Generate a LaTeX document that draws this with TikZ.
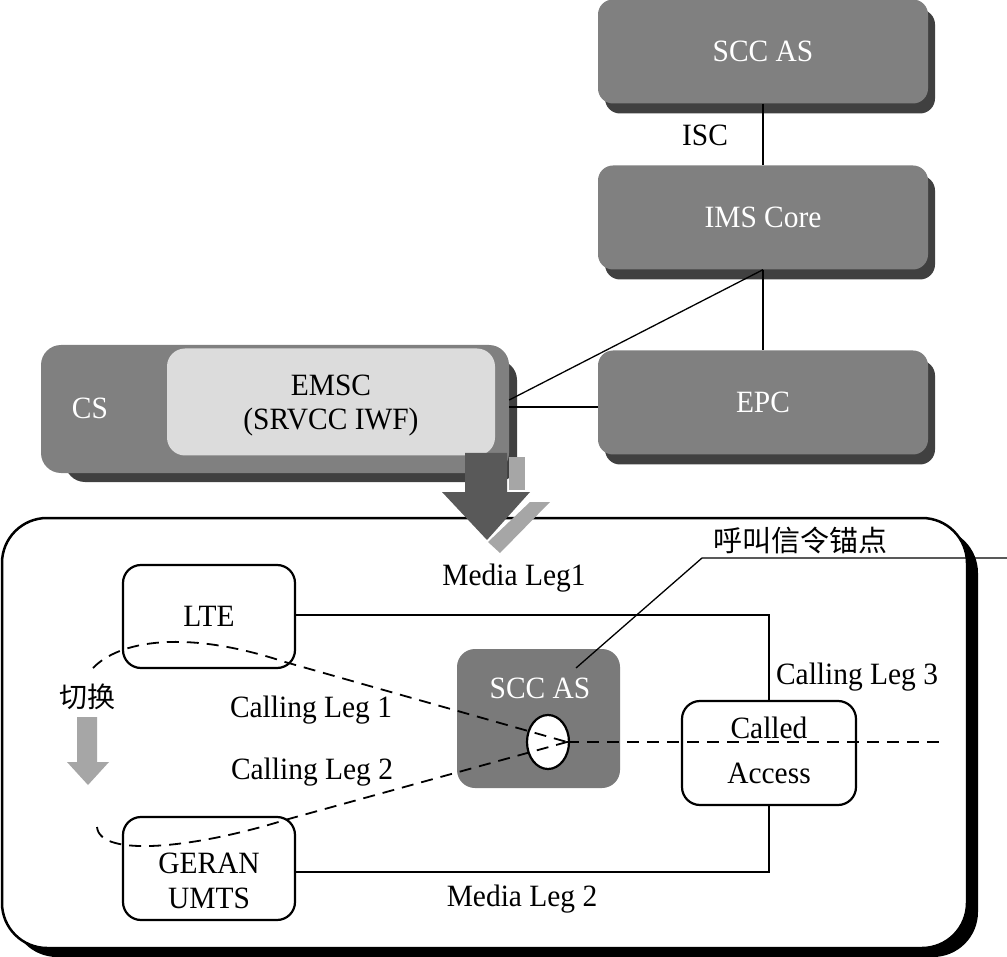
\documentclass[tikz,border=0pt]{standalone}
\usepackage{fontspec}
\setmainfont{Liberation Serif}[FakeStretch=0.95]
\newfontfamily\cjk{Noto Sans CJK SC}
\usetikzlibrary{shapes.geometric,shadows}
\definecolor{boxgray}{RGB}{128,128,128}
\definecolor{shadowgray}{RGB}{64,64,64}
\definecolor{emscgray}{RGB}{220,220,220}
\definecolor{darkarrow}{RGB}{89,89,89}
\definecolor{lightarrow}{RGB}{166,166,166}
\definecolor{innergray}{RGB}{122,122,122}
\tikzset{
  txt/.style={font=\fontsize{31}{35}\selectfont, inner sep=0pt},
  topbox/.style={txt, fill=boxgray, text=white, rounded corners=15pt,
    minimum width=330pt, minimum height=104pt,
    general shadow={shadow xshift=7pt, shadow yshift=-10pt, fill=shadowgray}},
  accbox/.style={txt, draw, line width=2.2pt, fill=white, rounded corners=18pt,
    minimum width=172pt, minimum height=103pt, align=center},
  thin/.style={line width=1.3pt},
  dashln/.style={line width=1.8pt, dash pattern=on 12pt off 8pt},
  lbl/.style={txt}
}
\begin{document}
\begin{tikzpicture}[x=1pt,y=-1pt]
\useasboundingbox (0,0) rectangle (1007,957);

% top column
\node[topbox] (sccTop) at (763,51.5) {SCC AS};
\node[topbox] (ims) at (763,217.5) {IMS Core};
\node[topbox] (epc) at (763,402.5) {EPC};
\draw[thin] (sccTop.south) -- (ims.north);
\draw[thin] (ims.south) -- (epc.north);
\node[lbl] (isc) at (705,135) {ISC};

% CS / EMSC
\fill[shadowgray, rounded corners=20pt] (65,360) rectangle (517,482);
\node[txt, fill=boxgray, rounded corners=20pt, minimum width=468pt, minimum height=128pt] (cs) at (275,409) {};
\node[txt, text=white] (csl) at (90,408) {CS};
\node[txt, fill=emscgray, rounded corners=18pt, minimum width=328pt, minimum height=107pt] (emsc) at (331,402) {};
\node[txt, align=center, font=\fontsize{31}{34}\selectfont] (emscT) at (331,406) {EMSC\\(SRVCC IWF)};
\coordinate (csA) at ([yshift=9pt]cs.east);
\draw[thin] (csA) -- (ims.south);
\coordinate (epcW) at ([yshift=-4.5pt]epc.west);
\draw[thin] (cs.east |- epcW) -- (epcW);

% container
\fill[black, rounded corners=45pt] (12,528) rectangle (978,957);
\draw[line width=2.5pt, fill=white, rounded corners=45pt] (2,518) rectangle (967,948);

% big arrow
\fill[darkarrow] (465,453) -- (507,453) -- (507,492) -- (530,492) -- (487,540) -- (442,492) -- (465,492) -- cycle;
\fill[lightarrow] (509,457) rectangle (525,490);
\fill[lightarrow] (530,502) -- (550,502) -- (500,553) -- (488,542) -- cycle;

% access boxes
\node[accbox] (lte) at (209,616.5) {LTE};
\node[accbox] (geran) at (209,868.5) {};
\node[txt, align=center, font=\fontsize{31}{35}\selectfont] (geranT) at (209,881) {GERAN\\UMTS};
\node[accbox, minimum width=174pt, minimum height=104pt] (called) at (769,753) {};
\node[txt, align=center, font=\fontsize{31}{45}\selectfont] (calledT) at (769,750) {Called\\Access};

% inner SCC AS
\node[txt, fill=innergray, rounded corners=18pt, minimum width=163pt, minimum height=139pt] (sccIn) at (538.5,718.5) {};
\node[txt, text=white] (sccInL) at (540,688) {SCC AS};

% media legs
\coordinate (m1) at (called.north |- lte.east);
\draw[thin] ([yshift=1.5pt]lte.east) -- ([yshift=1.5pt]m1) -- (called.north);
\coordinate (m2) at (called.south |- geran.east);
\draw[thin] ([yshift=-3.5pt]geran.east) -- ([yshift=-3.5pt]m2) -- (called.south);

% anchor
\node[ellipse, draw, line width=2.2pt, fill=white, minimum width=42pt, minimum height=54pt, inner sep=0pt] (anc) at (548,742) {};
\coordinate (meet) at (567,742);
\coordinate (rEnd) at (940,742);
\draw[dashln] (93,668) .. controls (118,642) and (182,628) .. (285,662) -- (meet);
\draw[dashln] (97,827) .. controls (100,858) and (195,848) .. (285,820) -- (meet);
\draw[dashln] (meet) -- (rEnd);

% leader
\coordinate (ld0) at ([xshift=36pt,yshift=20pt]sccInL.center);
\coordinate (ld1) at (702,558);
\coordinate (ld2) at (1007,558);
\draw[thin] (ld0) -- (ld1) -- (ld2);
\node[txt, font=\cjk\fontsize{29}{35}\selectfont] (anchorLbl) at (800,540) {呼叫信令锚点};

% handover arrow
\fill[lightarrow] (77,717) -- (97,717) -- (97,762) -- (109,762) -- (88,785) -- (67,762) -- (77,762) -- cycle;
\node[txt, font=\cjk\fontsize{28}{35}\selectfont] (ho) at (87,697) {切换};

% labels
\node[lbl] (ml1) at (514,578) {Media Leg1};
\node[lbl] (cl1) at (311,710) {Calling Leg 1};
\node[lbl] (cl2) at (312,772) {Calling Leg 2};
\node[lbl] (cl3) at (857,677) {Calling Leg 3};
\node[lbl] (ml2) at (522,899) {Media Leg 2};
\end{tikzpicture}
\end{document}
